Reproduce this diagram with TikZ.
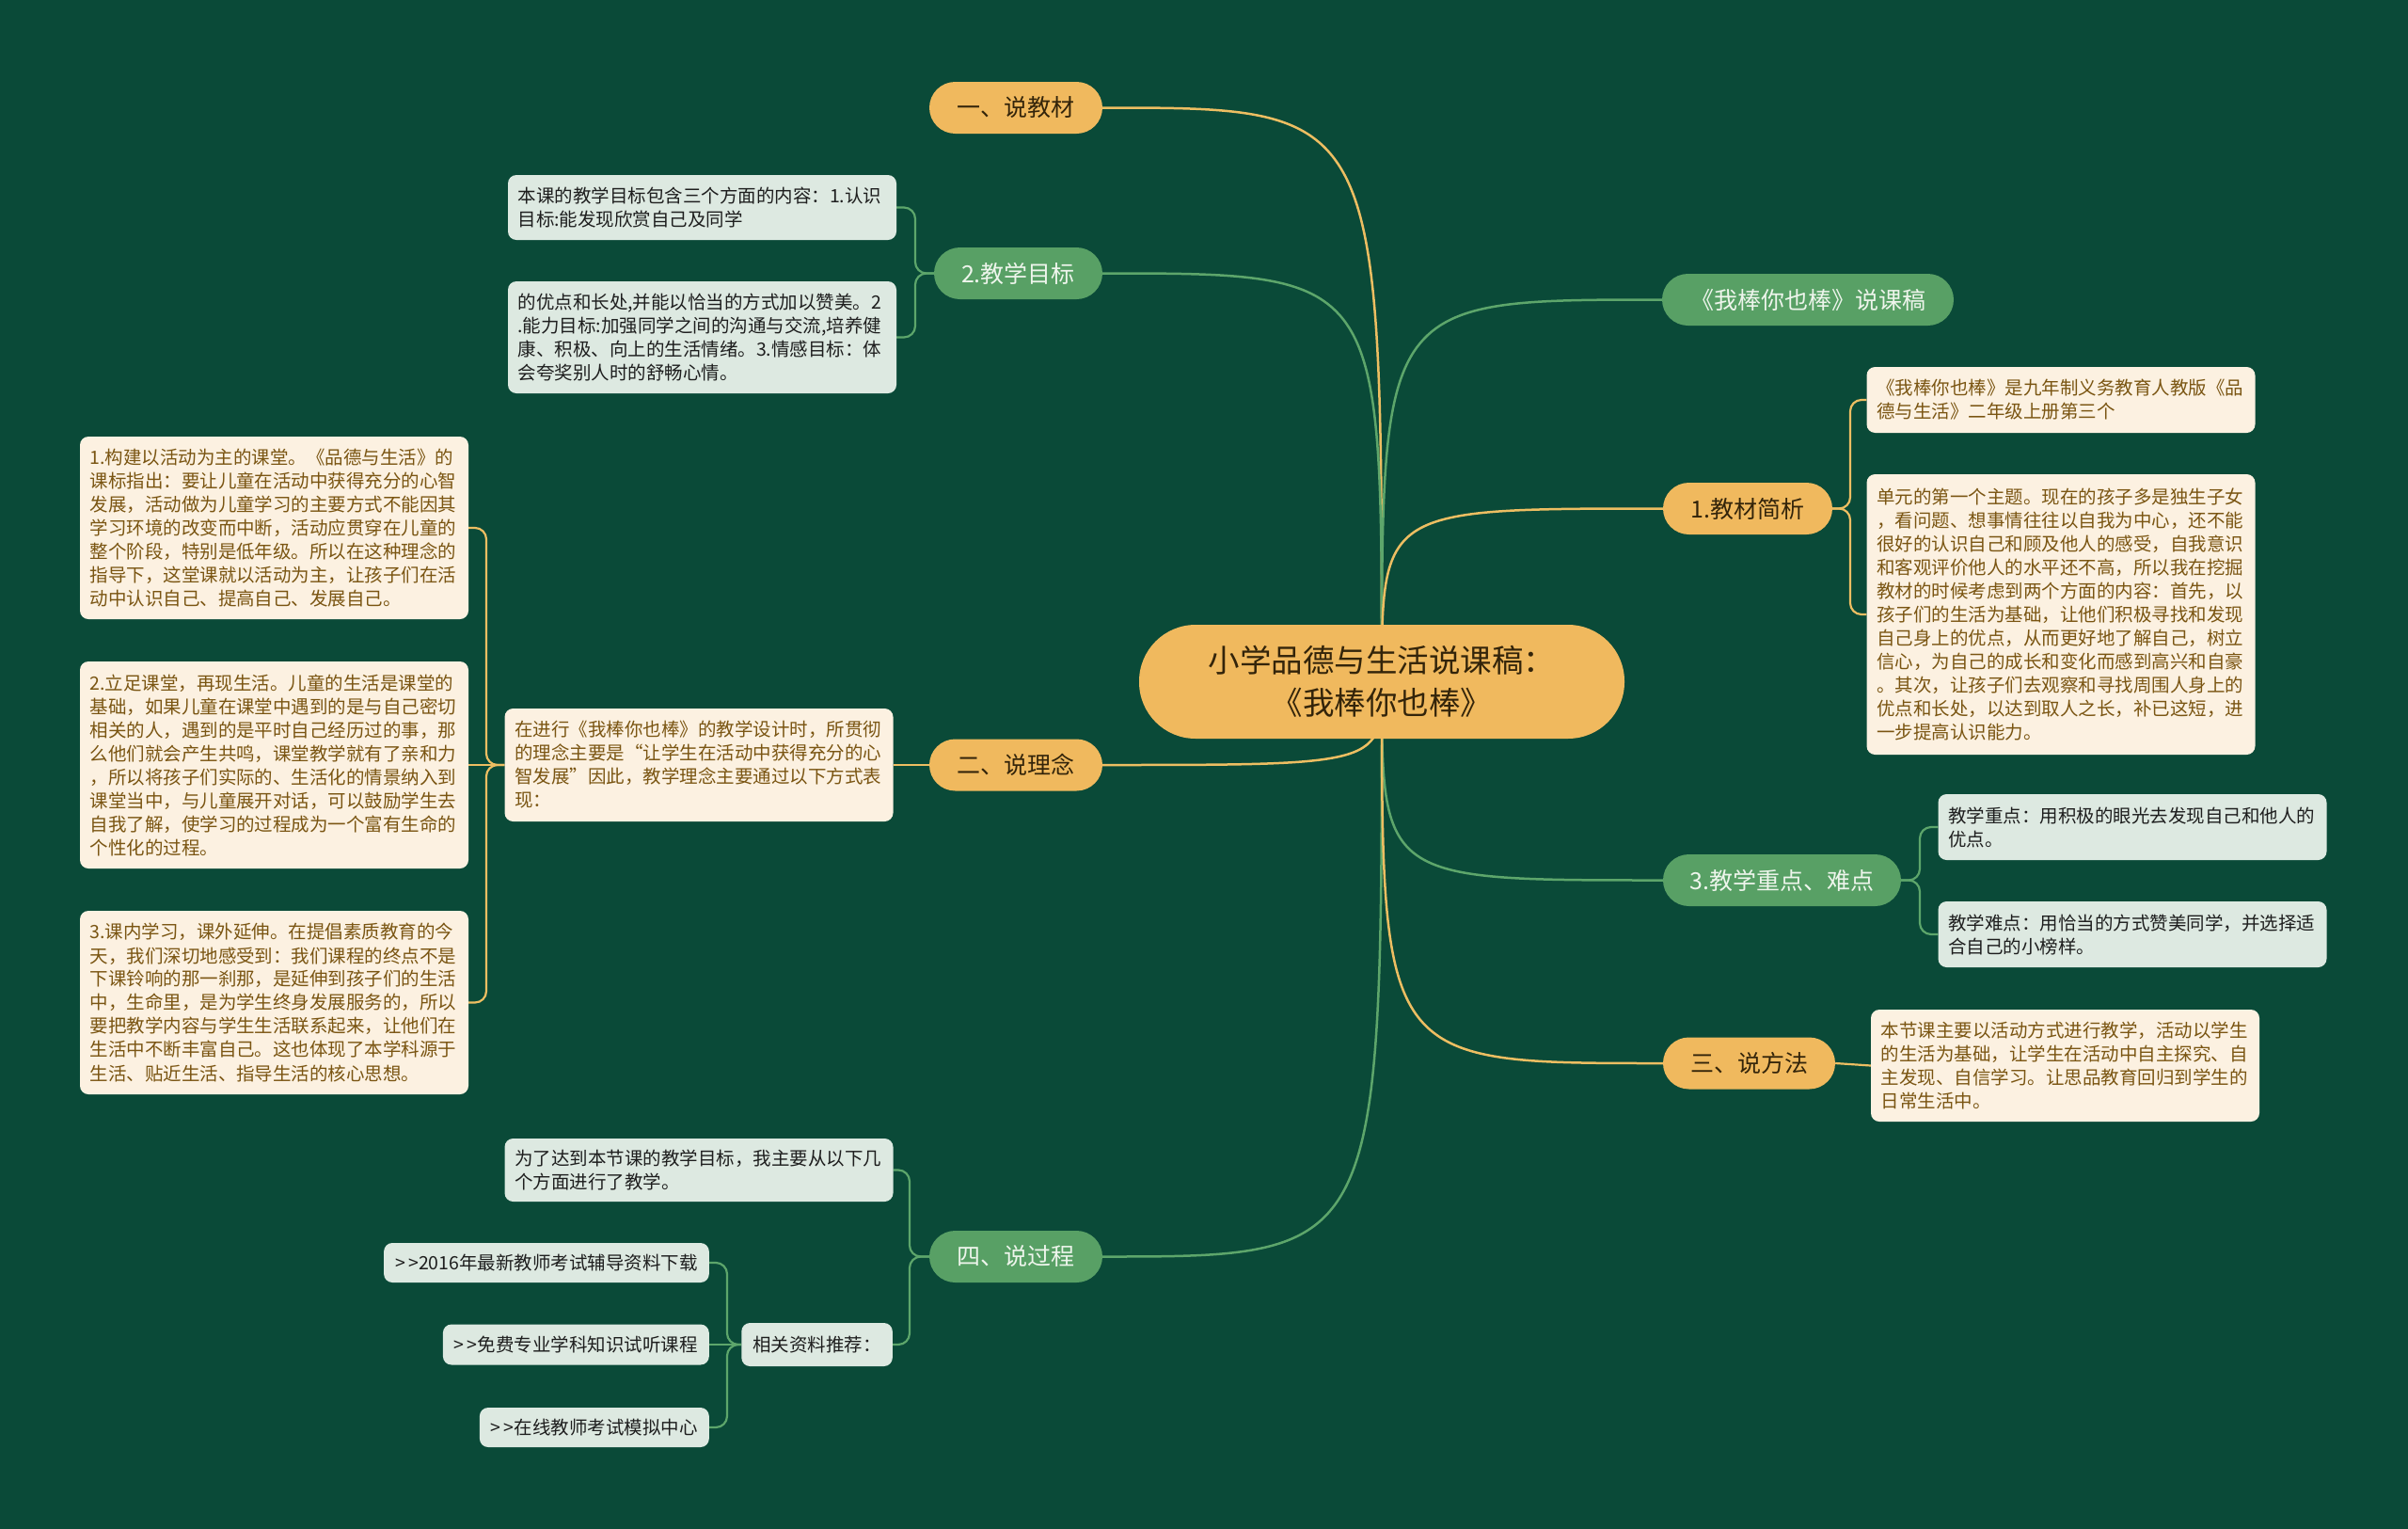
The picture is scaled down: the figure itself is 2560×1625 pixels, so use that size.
\documentclass[tikz,border=0pt]{standalone}
\usepackage{fontspec}
\setmainfont{Noto Sans CJK SC}
\definecolor{bgc}{HTML}{0A4A38}
\definecolor{orf}{HTML}{F0B95E}
\definecolor{ort}{HTML}{33240A}
\definecolor{grf}{HTML}{58A065}
\definecolor{grt}{HTML}{EEF5EC}
\definecolor{lgf}{HTML}{DDE9E1}
\definecolor{lgt}{HTML}{1E1E1E}
\definecolor{crf}{HTML}{FCF1E1}
\definecolor{crt}{HTML}{7A5512}
\definecolor{lno}{HTML}{EDBE62}
\definecolor{lng}{HTML}{5DA66B}
\pgfdeclarelayer{bglayer}
\pgfdeclarelayer{lines}
\pgfsetlayers{bglayer,lines,main}
\begin{document}
\begin{tikzpicture}[x=1pt,y=-1pt,
  rootbox/.style={fill=orf,text=ort,rounded corners=60,minimum width=516,minimum height=121,inner sep=0,align=center,font=\fontsize{33.5}{45}\selectfont},
  lvone/.style={rounded corners=27.5,minimum height=55,inner sep=0,font=\fontsize{25}{28}\selectfont},
  orn/.style={lvone,fill=orf,text=ort},
  grn/.style={lvone,fill=grf,text=grt},
  leaf/.style={rounded corners=9,inner xsep=10.5,inner ysep=0,align=left,text width=392,font=\fontsize{19.5}{25}\selectfont},
  leafg/.style={leaf,fill=lgf,text=lgt},
  leafc/.style={leaf,fill=crf,text=crt},
  smallg/.style={rounded corners=9,inner xsep=12,inner ysep=0,fill=lgf,text=lgt,font=\fontsize{19.5}{25}\selectfont},
  mainline/.style={line width=2.5},
  subline/.style={line width=2.2,rounded corners=12},
  lo/.style={draw=lno},
  lg/.style={draw=lng}
]
\begin{pgfonlayer}{bglayer}
\fill[bgc] (0,0) rectangle (2560,1625);
\end{pgfonlayer}
\useasboundingbox (0,0) rectangle (2560,1625);

% root
\node[rootbox] (root) at (1469,724.5) {小学品德与生活说课稿：\\《我棒你也棒》};

% level one
\node[orn,minimum width=184] (jiaocai) at (1080,114.5) {一、说教材};
\node[grn,minimum width=179] (mubiao) at (1082.5,290.5) {2.教学目标};
\node[orn,minimum width=184] (linian) at (1080,813) {二、说理念};
\node[grn,minimum width=184] (guocheng) at (1080,1335.5) {四、说过程};
\node[grn,minimum width=310] (shuoke) at (1922,318.5) {《我棒你也棒》说课稿};
\node[orn,minimum width=180] (jianxi) at (1858,540.5) {1.教材简析};
\node[grn,minimum width=253] (zhongdian) at (1894.5,935.5) {3.教学重点、难点};
\node[orn,minimum width=183] (fangfa) at (1859.5,1130) {三、说方法};

% leaves
\node[leafg,minimum height=69] (goala) at (746.5,220.5) {本课的教学目标包含三个方面的内容：1.认识\\目标:能发现欣赏自己及同学};
\node[leafg,minimum height=119] (goalb) at (746.5,358.5) {的优点和长处,并能以恰当的方式加以赞美。2\\.能力目标:加强同学之间的沟通与交流,培养健\\康、积极、向上的生活情绪。3.情感目标：体\\会夸奖别人时的舒畅心情。};

\node[leafc,minimum height=120] (ideam) at (743,813) {在进行《我棒你也棒》的教学设计时，所贯彻\\的理念主要是“让学生在活动中获得充分的心\\智发展”因此，教学理念主要通过以下方式表\\现：};
\node[leafc,minimum height=194] (ideaa) at (291.5,561) {1.构建以活动为主的课堂。《品德与生活》的\\课标指出：要让儿童在活动中获得充分的心智\\发展，活动做为儿童学习的主要方式不能因其\\学习环境的改变而中断，活动应贯穿在儿童的\\整个阶段，特别是低年级。所以在这种理念的\\指导下，这堂课就以活动为主，让孩子们在活\\动中认识自己、提高自己、发展自己。};
\node[leafc,minimum height=220] (ideab) at (291.5,813) {2.立足课堂，再现生活。儿童的生活是课堂的\\基础，如果儿童在课堂中遇到的是与自己密切\\相关的人，遇到的是平时自己经历过的事，那\\么他们就会产生共鸣，课堂教学就有了亲和力\\，所以将孩子们实际的、生活化的情景纳入到\\课堂当中，与儿童展开对话，可以鼓励学生去\\自我了解，使学习的过程成为一个富有生命的\\个性化的过程。};
\node[leafc,minimum height=195] (ideac) at (291.5,1065.5) {3.课内学习，课外延伸。在提倡素质教育的今\\天，我们深切地感受到：我们课程的终点不是\\下课铃响的那一刹那，是延伸到孩子们的生活\\中，生命里，是为学生终身发展服务的，所以\\要把教学内容与学生生活联系起来，让他们在\\生活中不断丰富自己。这也体现了本学科源于\\生活、贴近生活、指导生活的核心思想。};

\node[leafg,minimum height=67] (proca) at (743,1243.5) {为了达到本节课的教学目标，我主要从以下几\\个方面进行了教学。};
\node[smallg,minimum height=46,anchor=east] (related) at (949,1429) {相关资料推荐：};
\node[smallg,minimum height=42,anchor=east] (linka) at (754,1342) {>\,>2016年最新教师考试辅导资料下载};
\node[smallg,minimum height=43,anchor=east] (linkb) at (754,1429) {>\,>免费专业学科知识试听课程};
\node[smallg,minimum height=42,anchor=east] (linkc) at (754,1517) {>\,>在线教师考试模拟中心};

\node[leafc,minimum height=70] (jca) at (2191,425) {《我棒你也棒》是九年制义务教育人教版《品\\德与生活》二年级上册第三个};
\node[leafc,minimum height=298] (jcb) at (2191,653) {单元的第一个主题。现在的孩子多是独生子女\\，看问题、想事情往往以自我为中心，还不能\\很好的认识自己和顾及他人的感受，自我意识\\和客观评价他人的水平还不高，所以我在挖掘\\教材的时候考虑到两个方面的内容：首先，以\\孩子们的生活为基础，让他们积极寻找和发现\\自己身上的优点，从而更好地了解自己，树立\\信心，为自己的成长和变化而感到高兴和自豪\\。其次，让孩子们去观察和寻找周围人身上的\\优点和长处，以达到取人之长，补已这短，进\\一步提高认识能力。};
\node[leafg,minimum height=70] (zda) at (2267,879) {教学重点：用积极的眼光去发现自己和他人的\\优点。};
\node[leafg,minimum height=70] (zdb) at (2267,993) {教学难点：用恰当的方式赞美同学，并选择适\\合自己的小榜样。};
\node[leafc,minimum height=119] (ff) at (2195.5,1132.5) {本节课主要以活动方式进行教学，活动以学生\\的生活为基础，让学生在活动中自主探究、自\\主发现、自信学习。让思品教育回归到学生的\\日常生活中。};

% junction coordinates
\coordinate (jmb) at (973,290.5);
\coordinate (jln) at (517,813);
\coordinate (jgc) at (967,1335.5);
\coordinate (jrl) at (773,1429);
\coordinate (jjx) at (1967,540.5);
\coordinate (jzd) at (2041,935.5);

\begin{pgfonlayer}{lines}
% root branches
\draw[mainline,lo] (root.center) .. controls (root.center |- jiaocai.east) .. (jiaocai.east);
\draw[mainline,lg] (root.center) .. controls (root.center |- mubiao.east) .. (mubiao.east);
\draw[mainline,lo] (root.center) .. controls (root.center |- linian.east) .. (linian.east);
\draw[mainline,lg] (root.center) .. controls (root.center |- guocheng.east) .. (guocheng.east);
\draw[mainline,lg] (root.center) .. controls (root.center |- shuoke.west) .. (shuoke.west);
\draw[mainline,lo] (root.center) .. controls (root.center |- jianxi.west) .. (jianxi.west);
\draw[mainline,lg] (root.center) .. controls (root.center |- zhongdian.west) .. (zhongdian.west);
\draw[mainline,lo] (root.center) .. controls (root.center |- fangfa.west) .. (fangfa.west);
% sub branches
\draw[subline,lg] (mubiao.west) -- (jmb) |- (goala.east);
\draw[subline,lg] (mubiao.west) -- (jmb) |- (goalb.east);
\draw[subline,lo] (linian.west) -- (ideam.east);
\draw[subline,lo] (ideam.west) -- (jln) |- (ideaa.east);
\draw[subline,lo] (ideam.west) -- (ideab.east);
\draw[subline,lo] (ideam.west) -- (jln) |- (ideac.east);
\draw[subline,lg] (guocheng.west) -- (jgc) |- (proca.east);
\draw[subline,lg] (guocheng.west) -- (jgc) |- (related.east);
\draw[subline,lg] (related.west) -- (jrl) |- (linka.east);
\draw[subline,lg] (related.west) -- (linkb.east);
\draw[subline,lg] (related.west) -- (jrl) |- (linkc.east);
\draw[subline,lo] (jianxi.east) -- (jjx) |- (jca.west);
\draw[subline,lo] (jianxi.east) -- (jjx) |- (jcb.west);
\draw[subline,lg] (zhongdian.east) -- (jzd) |- (zda.west);
\draw[subline,lg] (zhongdian.east) -- (jzd) |- (zdb.west);
\draw[subline,lo] (fangfa.east) -- (ff.west);
\end{pgfonlayer}
\end{tikzpicture}
\end{document}
